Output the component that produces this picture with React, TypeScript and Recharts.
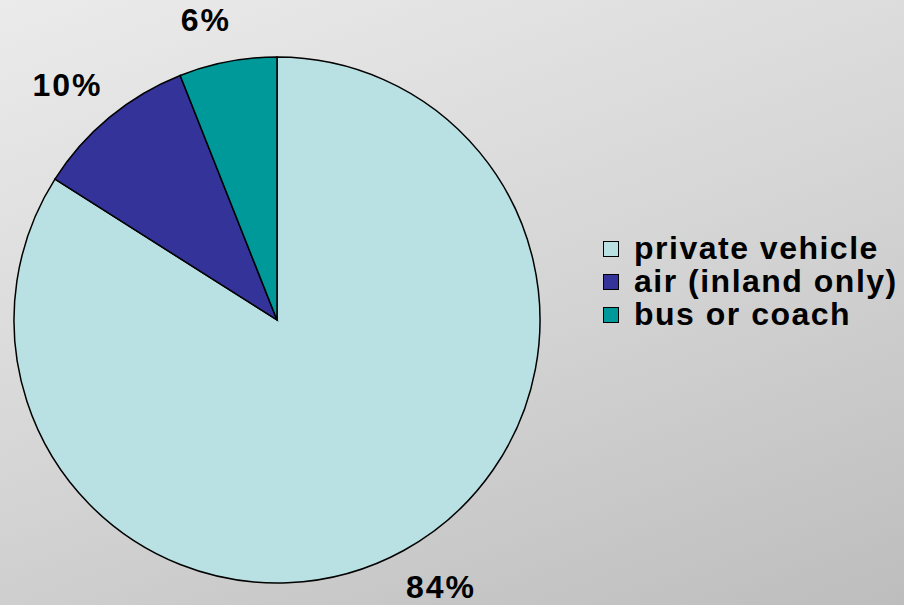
import React from "react";
import { PieChart, Pie, Cell } from "recharts";

const categories = ["private vehicle", "air (inland only)", "bus or coach"];
const shares = [84, 10, 6];
const colors = ["#b9e1e3", "#333399", "#009999"];

const data = categories.map((name, i) => ({ name, value: shares[i] }));

const W = 904;
const H = 605;
const FONT = "'Liberation Sans', Arial, sans-serif";
const FS = 32;
const RAD = Math.PI / 180;

const renderLabel = (props: any) => {
  const { cx, cy, midAngle, outerRadius, percent } = props;
  const text = `${Math.round(percent * 100)}%`;
  const digits = text.length - 1;
  const w = FS * (0.556 * digits + 0.889) + 2 * text.length;
  const h = 24;
  const ux = Math.cos(-midAngle * RAD);
  const uy = Math.sin(-midAngle * RAD);
  const r = outerRadius + 30;
  const x = cx + ux * r + Math.sign(ux) * 0.65 * (w / 2);
  const y = cy + uy * r + (uy * h) / 2;
  return (
    <text
      x={x}
      y={y}
      textAnchor="middle"
      dominantBaseline="central"
      fill="#000"
      fontFamily={FONT}
      fontWeight="bold"
      fontSize={FS}
      letterSpacing={2}
    >
      {text}
    </text>
  );
};

export default function App() {
  return (
    <div
      style={{
        position: "absolute",
        left: 0,
        top: 0,
        width: W,
        height: H,
        background: "linear-gradient(160deg, #ebebeb 0%, #d6d6d6 50%, #bdbdbd 100%)",
        overflow: "hidden",
      }}
    >
      <PieChart width={W} height={H} margin={{ top: 0, right: 0, bottom: 0, left: 0 }}>
        <Pie
          data={data}
          dataKey="value"
          nameKey="name"
          cx={277}
          cy={320}
          outerRadius={263}
          startAngle={90}
          endAngle={-270}
          stroke="#000"
          strokeWidth={1.5}
          label={renderLabel}
          labelLine={false}
          isAnimationActive={false}
        >
          {data.map((d, i) => (
            <Cell key={d.name} fill={colors[i]} />
          ))}
        </Pie>
      </PieChart>
      <div
        style={{
          position: "absolute",
          left: 603,
          top: 232,
          fontFamily: FONT,
          fontWeight: "bold",
          fontSize: 32,
          letterSpacing: 1.5,
          color: "#000",
        }}
      >
        {data.map((d, i) => (
          <div
            key={d.name}
            style={{ display: "flex", alignItems: "center", height: 33, whiteSpace: "nowrap" }}
          >
            <span
              style={{
                display: "inline-block",
                width: 16,
                height: 16,
                background: colors[i],
                border: "1.5px solid #000",
                marginRight: 15,
                boxSizing: "border-box",
              }}
            />
            <span>{d.name}</span>
          </div>
        ))}
      </div>
    </div>
  );
}
